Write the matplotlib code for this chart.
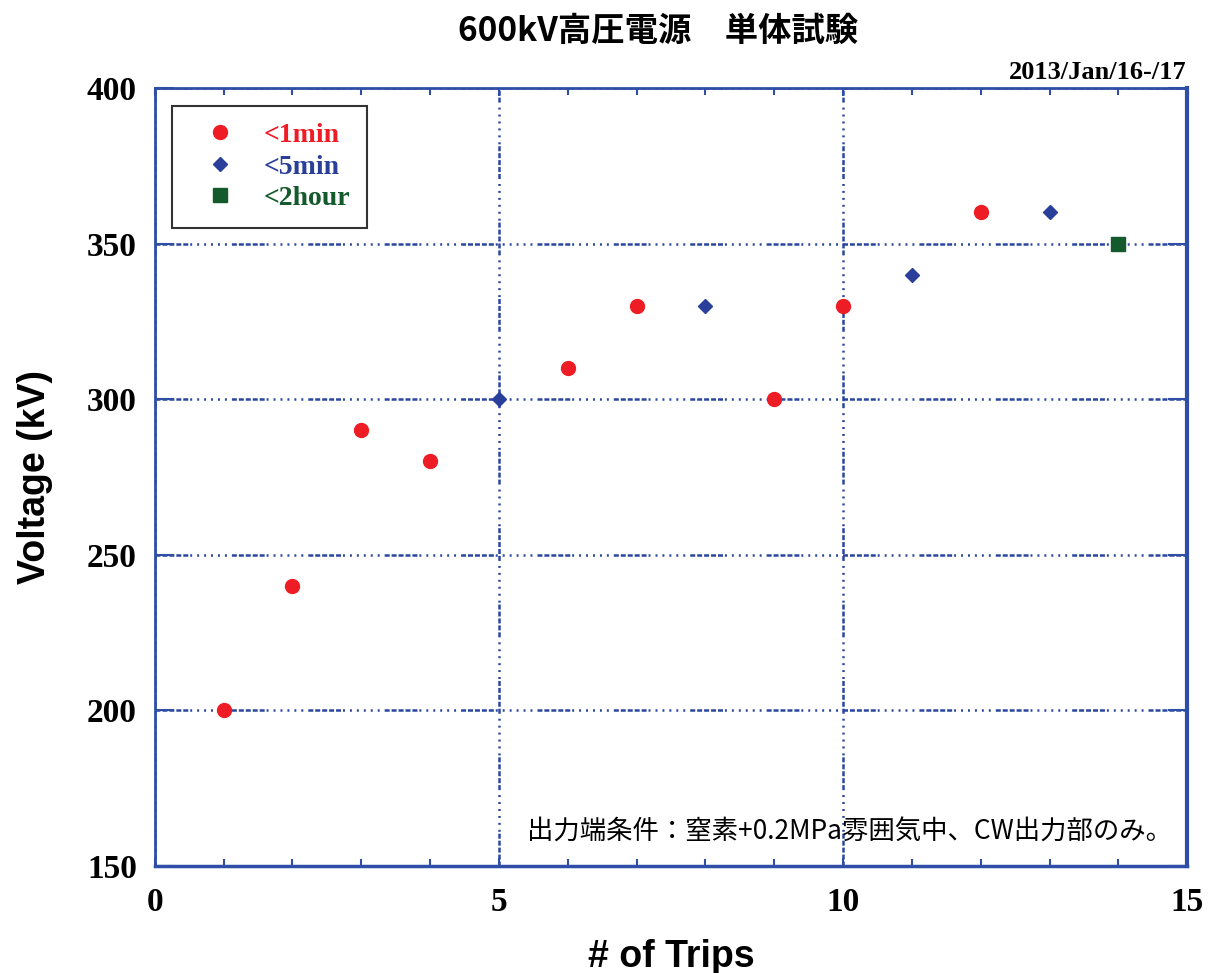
import matplotlib.pyplot as plt
from matplotlib.ticker import MultipleLocator

# data
trips_1min = [1, 2, 3, 4, 6, 7, 9, 10, 12]
volt_1min = [200, 240, 290, 280, 310, 330, 300, 330, 360]
trips_5min = [5, 8, 11, 13]
volt_5min = [300, 330, 340, 360]
trips_2hour = [14]
volt_2hour = [350]

plt.rcParams['lines.scale_dashes'] = False
blue = '#2f4fa6'
grid_blue = '#2a46a0'
serif = ['Liberation Serif', 'DejaVu Serif']
sans = ['Liberation Sans', 'DejaVu Sans']
cjk = ['Noto Sans CJK JP', 'DejaVu Sans']

fig = plt.figure(figsize=(12.19, 9.73), dpi=100)
ax = fig.add_axes([0.127, 0.110, 0.847, 0.7996])

ax.plot(trips_1min, volt_1min, 'o', color='#ee1c25', ms=10, ls='none', label='<1min', zorder=3)
ax.plot(trips_5min, volt_5min, 'D', color='#2a3f9a', ms=7, ls='none', label='<5min', zorder=3)
ax.plot(trips_2hour, volt_2hour, 's', color='#145a2c', ms=10, ls='none', label='<2hour', zorder=3)

ax.set_xlim(0, 15)
ax.set_ylim(150, 400)
ax.xaxis.set_major_locator(MultipleLocator(5))
ax.xaxis.set_minor_locator(MultipleLocator(1))
ax.yaxis.set_major_locator(MultipleLocator(50))

dash = (0, [3.6, 1.4] * 5 + [1.4, 3.6] * 6)
ax.grid(True, which='major', color=grid_blue, lw=1.8, ls=dash)
for gl in ax.xaxis.get_gridlines():
    if abs(gl.get_xdata()[0] - 10) < 0.01:
        gl.set_linewidth(1.0)
for gl in ax.yaxis.get_gridlines():
    if abs(gl.get_ydata()[0] - 350) < 0.01:
        gl.set_linewidth(1.0)
ax.set_axisbelow(True)

for side, sp in ax.spines.items():
    sp.set_color(blue)
    sp.set_linewidth(2.0)
ax.spines['right'].set_linewidth(3.0)
ax.spines['bottom'].set_linewidth(2.5)

ax.tick_params(which='both', direction='in', top=True, right=True, color=blue, width=1.5)
ax.tick_params(axis='y', which='major', length=14, pad=13)
ax.tick_params(axis='x', which='major', length=6, pad=15)
ax.tick_params(axis='x', which='minor', length=5)
for lab in ax.get_xticklabels() + ax.get_yticklabels():
    lab.set_family(serif)
    lab.set_fontweight('bold')
    lab.set_fontsize(24)

ax.set_xlabel('# of Trips', family=sans, fontweight='bold', fontsize=27, labelpad=15)
ax.set_ylabel('Voltage (kV)', family=sans, fontweight='bold', fontsize=27, labelpad=24)

leg = ax.legend(loc='upper left', bbox_to_anchor=(0.0165, 0.977), frameon=True, fancybox=False,
                edgecolor='black', borderpad=0.6, handletextpad=0.4, labelspacing=0.22,
                borderaxespad=0, prop={'family': serif, 'weight': 'bold', 'size': 20},
                handlelength=2.3)
leg.get_frame().set_linewidth(1.5)
for txt, c in zip(leg.get_texts(), ['#ee1c25', '#2a3f9a', '#145a2c']):
    txt.set_color(c)

fig.text(0.540, 0.968, '600kV高圧電源\u3000単体試験', family=cjk, fontweight='bold',
         fontsize=24, ha='center', va='center')
fig.text(0.973, 0.925, '2013/Jan/16-/17', family=serif, fontweight='bold',
         fontsize=19, ha='right', va='center')
ax.text(0.985, 0.045, '出力端条件：窒素+0.2MPa雰囲気中、CW出力部のみ。', transform=ax.transAxes,
        family=cjk, fontsize=19, ha='right', va='center')

fig.savefig('out.png', dpi=100)
